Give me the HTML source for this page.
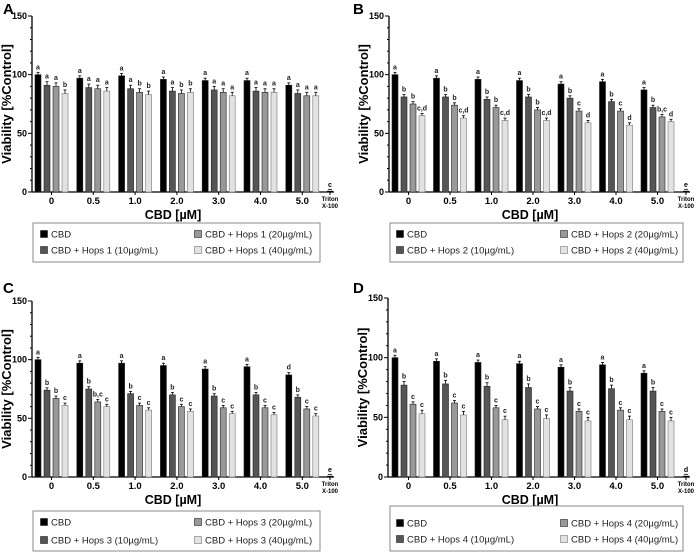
<!DOCTYPE html>
<html><head><meta charset="utf-8"><style>
html,body{margin:0;padding:0;background:#fff;}
svg{display:block;font-family:"Liberation Sans",Arial,sans-serif;}
</style></head><body>
<svg id="fig" width="700" height="552" viewBox="0 0 700 552" xmlns="http://www.w3.org/2000/svg"></svg>
<script>
const categories = ["0","0.5","1.0","2.0","3.0","4.0","5.0"];
const yTicks = [0,50,100,150];
const seriesNamesA = ["CBD","CBD + Hops 1 (10µg/mL)","CBD + Hops 1 (20µg/mL)","CBD + Hops 1 (40µg/mL)"];
const seriesNamesB = ["CBD","CBD + Hops 2 (10µg/mL)","CBD + Hops 2 (20µg/mL)","CBD + Hops 2 (40µg/mL)"];
const seriesNamesC = ["CBD","CBD + Hops 3 (10µg/mL)","CBD + Hops 3 (20µg/mL)","CBD + Hops 3 (40µg/mL)"];
const seriesNamesD = ["CBD","CBD + Hops 4 (10µg/mL)","CBD + Hops 4 (20µg/mL)","CBD + Hops 4 (40µg/mL)"];
const cbdA = [100,97,99,96,95,95,91];
const hops10A = [91,89,88,86,87,86,84];
const hops20A = [90,88,85,84,85,85,82];
const hops40A = [84,86,83,85,82,85,82];
const cbdB = [100,97,96,95,92,94,87];
const hops10B = [81,81,79,81,80,77,72];
const hops20B = [75,74,72,70,69,69,64];
const hops40B = [65,63,61,61,59,57,60];
const cbdC = [100,97,97,95,92,94,87];
const hops10C = [74,75,71,70,69,70,68];
const hops20C = [67,64,61,60,59,59,58];
const hops40C = [61,60,57,56,54,53,52];
const cbdD = [100,97,96,95,92,94,87];
const hops10D = [77,78,76,75,72,74,72];
const hops20D = [61,62,58,57,55,56,55];
const hops40D = [53,52,48,49,47,48,47];
const errA = [2,3,3,3];
const errB = [2,2,2,2];
const errC = [2,2,2,2];
const errD = [2,3,2,3];
const tritonA = 1, tritonB = 1, tritonC = 1, tritonD = 1;
const lettersA = [["a","a","a","b"],["a","a","a","a"],["a","a","b","b"],["a","a","b","b"],["a","a","a","a"],["a","a","a","a"],["a","a","a","a"]];
const lettersB = [["a","b","b","c,d"],["a","b","b","c,d"],["a","b","b","c,d"],["a","b","b","c,d"],["a","b","c","d"],["a","b","c","d"],["a","b","b,c","d"]];
const lettersC = [["a","b","b","c"],["a","b","b,c","c"],["a","b","c","c"],["a","b","c","c"],["a","b","c","c"],["a","b","c","c"],["d","b","c","c"]];
const lettersD = [["a","b","c","c"],["a","b","c","c"],["a","b","c","c"],["a","b","c","c"],["a","b","c","c"],["a","b","c","c"],["a","b","c","c"]];
const tritonLetters = ["c","e","e","d"];

const NS="http://www.w3.org/2000/svg";
const svg=document.getElementById('fig');
function mk(tag,attrs,parent,text){const e=document.createElementNS(NS,tag);for(const k in attrs)e.setAttribute(k,attrs[k]);if(text!==undefined)e.textContent=text;(parent||svg).appendChild(e);return e;}
const fills=["#000","#555","#999","#e2e2e2"];

function panel(p){
  const g=mk('g',{});
  
  
  const yS=v=>p.y0-(v/150)*(p.y0-p.y150);
  const gx=i=>p.g0+i*p.gs;
  const lt=mk('text',{x:p.lx,y:p.ly,'font-size':15,'font-weight':'bold'},g,p.letter);
  
  const ya=mk('line',{x1:p.ax,y1:p.y150,x2:p.ax,y2:p.y0,stroke:'#000','stroke-width':1.3},g);
  
  for(let v=0;v<=150;v+=10){mk('line',{x1:p.ax-(v%50==0?4:2),y1:yS(v),x2:p.ax,y2:yS(v),stroke:'#000','stroke-width':1},g);}
  yTicks.forEach(v=>{const t=mk('text',{x:p.ax-5,y:yS(v)+3,'font-size':9,'font-weight':'bold','text-anchor':'end'},g,String(v));
    });
  const yt=mk('text',{x:0,y:0,'font-size':13,'font-weight':'bold','text-anchor':'middle',transform:`translate(${p.ax-21},${(p.y0+p.y150)/2}) rotate(-90)`},g,'Viability [%Control]');
  
  const xa=mk('line',{x1:p.ax,y1:p.y0,x2:p.xe,y2:p.y0,stroke:'#000','stroke-width':1.3},g);
  
  const series=p.series;
  categories.forEach((c,i)=>{
    const cx=gx(i)+16.5;
    mk('line',{x1:cx,y1:p.y0,x2:cx,y2:p.y0+3,stroke:'#000'},g);
    const tl=mk('text',{x:cx,y:p.y0+12,'font-size':9.5,'font-weight':'bold','text-anchor':'middle'},g,c);
    
    series.forEach((s,j)=>{
      const v=s[i],x=gx(i)+j*9,y=yS(v),e=p.err[j];
      const r=mk('rect',{x:x,y:y,width:6,height:p.y0-y,fill:fills[j],stroke:j==3?'#777':'#222','stroke-width':0.6},g);
      
      
      mk('line',{x1:x+3,y1:y,x2:x+3,y2:yS(v+e),stroke:'#000','stroke-width':0.8},g);
      mk('line',{x1:x+1.5,y1:yS(v+e),x2:x+4.5,y2:yS(v+e),stroke:'#000','stroke-width':0.8},g);
      const lb=mk('text',{x:x+3,y:yS(v+e)-3,'font-size':7,'font-weight':'bold','text-anchor':'middle',fill:'#222'},g,p.letters[i][j]);
      
    });
  });
  const ty=yS(p.triton);
  mk('rect',{x:p.tx-3,y:ty,width:6,height:p.y0-ty,fill:'#000'},g);
  mk('line',{x1:p.tx-2,y1:ty-1.5,x2:p.tx+2,y2:ty-1.5,stroke:'#000','stroke-width':0.8},g);
  mk('line',{x1:p.tx,y1:p.y0,x2:p.tx,y2:p.y0+3,stroke:'#000'},g);
  mk('text',{x:p.tx,y:ty-4,'font-size':7,'font-weight':'bold','text-anchor':'middle'},g,p.tl);
  const t1=mk('text',{x:p.tx,y:p.y0+9,'font-size':6,'font-weight':'bold','text-anchor':'middle'},g,'Triton');
  
  mk('text',{x:p.tx,y:p.y0+16,'font-size':6,'font-weight':'bold','text-anchor':'middle'},g,'X-100');
  const xt=mk('text',{x:p.xlx,y:p.y0+27,'font-size':12.5,'font-weight':'bold','text-anchor':'middle'},g,'CBD [µM]');
  
  const lg=mk('g',{},g);
  
  mk('rect',{x:p.bx,y:p.by,width:p.bw,height:p.bh,fill:'#fff',stroke:'#888','stroke-width':1},lg);
  const pos=[[0,0],[0,1],[1,0],[1,1]];
  p.names.forEach((n,j)=>{
    const [col,row]=pos[j];
    const mx=col?p.c2:p.c1, my=row?p.r2:p.r1;
    const en=mk('g',{},lg);
    
    mk('rect',{x:mx-3.5,y:my-3.5,width:7,height:7,fill:fills[j],stroke:j==3?'#777':'#222','stroke-width':0.6},en);
    mk('text',{x:mx+7,y:my+3.5,'font-size':9.5,fill:'#222'},en,n);
  });
}
panel({letter:'A',lx:3,ly:14,ax:32,y0:192,y150:16,g0:35,gs:41.8,tx:330,xe:334,xlx:173,tl:tritonLetters[0],triton:tritonA,
 series:[cbdA,hops10A,hops20A,hops40A],err:errA,letters:lettersA,names:seriesNamesA,bx:33,by:223,bw:287,bh:39,c1:44,c2:198,r1:234,r2:250});
panel({letter:'B',lx:353,ly:14,ax:389,y0:192,y150:16,g0:392,gs:41.5,tx:686,xe:690,xlx:530,tl:tritonLetters[1],triton:tritonB,
 series:[cbdB,hops10B,hops20B,hops40B],err:errB,letters:lettersB,names:seriesNamesB,bx:390,by:223,bw:293,bh:39,c1:400,c2:564,r1:234,r2:250});
panel({letter:'C',lx:3,ly:293,ax:32,y0:477,y150:301,g0:35,gs:41.8,tx:330,xe:334,xlx:173,tl:tritonLetters[2],triton:tritonC,
 series:[cbdC,hops10C,hops20C,hops40C],err:errC,letters:lettersC,names:seriesNamesC,bx:33,by:511,bw:287,bh:40,c1:44,c2:198,r1:522,r2:540});
panel({letter:'D',lx:353,ly:293,ax:388,y0:477,y150:298,g0:392,gs:41.5,tx:686,xe:690,xlx:530,tl:tritonLetters[3],triton:tritonD,
 series:[cbdD,hops10D,hops20D,hops40D],err:errD,letters:lettersD,names:seriesNamesD,bx:390,by:506,bw:293,bh:45,c1:400,c2:564,r1:523,r2:539});
</script>
</body></html>
